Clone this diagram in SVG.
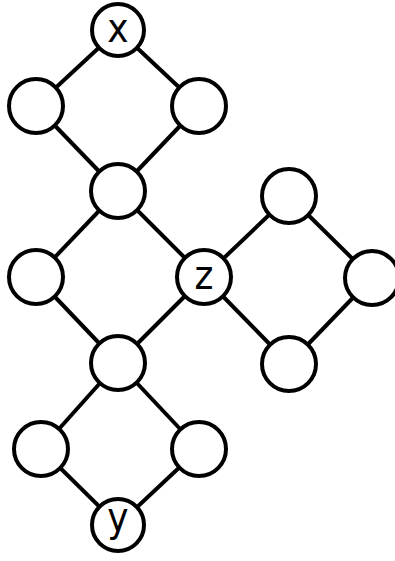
<svg xmlns="http://www.w3.org/2000/svg" width="395" height="561" viewBox="0 0 395 561">
<style>
.e{stroke:#000;stroke-width:4;fill:none}
.n{fill:#fff;stroke:#000;stroke-width:4}
.t{font-family:"DejaVu Sans Condensed","DejaVu Sans",sans-serif;font-size:40px;text-anchor:middle;fill:#000}
</style>
<rect width="395" height="561" fill="#fff"/>
<g id="edges" class="e">
<line x1="118" y1="30" x2="36" y2="106"/>
<line x1="118" y1="30" x2="199" y2="106"/>
<line x1="36" y1="106" x2="118" y2="191"/>
<line x1="199" y1="106" x2="118" y2="191"/>
<line x1="118" y1="191" x2="36" y2="277"/>
<line x1="118" y1="191" x2="204" y2="277"/>
<line x1="36" y1="277" x2="118" y2="363"/>
<line x1="204" y1="277" x2="118" y2="363"/>
<line x1="204" y1="277" x2="289" y2="196"/>
<line x1="204" y1="277" x2="289" y2="364"/>
<line x1="289" y1="196" x2="372" y2="278"/>
<line x1="289" y1="364" x2="372" y2="278"/>
<line x1="118" y1="363" x2="41" y2="449"/>
<line x1="118" y1="363" x2="199" y2="449"/>
<line x1="41" y1="449" x2="118" y2="525"/>
<line x1="199" y1="449" x2="118" y2="525"/>
</g>
<g id="x"><circle class="n" cx="118" cy="30" r="26"/><text class="t" x="118" y="42">x</text></g>
<g id="a"><circle class="n" cx="36" cy="106" r="27"/></g>
<g id="b"><circle class="n" cx="199" cy="106" r="27"/></g>
<g id="c"><circle class="n" cx="118" cy="191" r="27"/></g>
<g id="d"><circle class="n" cx="36" cy="277" r="27"/></g>
<g id="z"><circle class="n" cx="204" cy="277" r="27"/><text class="t" x="204" y="289">z</text></g>
<g id="e"><circle class="n" cx="289" cy="196" r="27"/></g>
<g id="f"><circle class="n" cx="372" cy="278" r="27"/></g>
<g id="g"><circle class="n" cx="289" cy="364" r="27"/></g>
<g id="h"><circle class="n" cx="118" cy="363" r="27"/></g>
<g id="i"><circle class="n" cx="41" cy="449" r="27"/></g>
<g id="j"><circle class="n" cx="199" cy="449" r="27"/></g>
<g id="y"><circle class="n" cx="118" cy="525" r="26"/><text class="t" x="118" y="531">y</text></g>
</svg>
